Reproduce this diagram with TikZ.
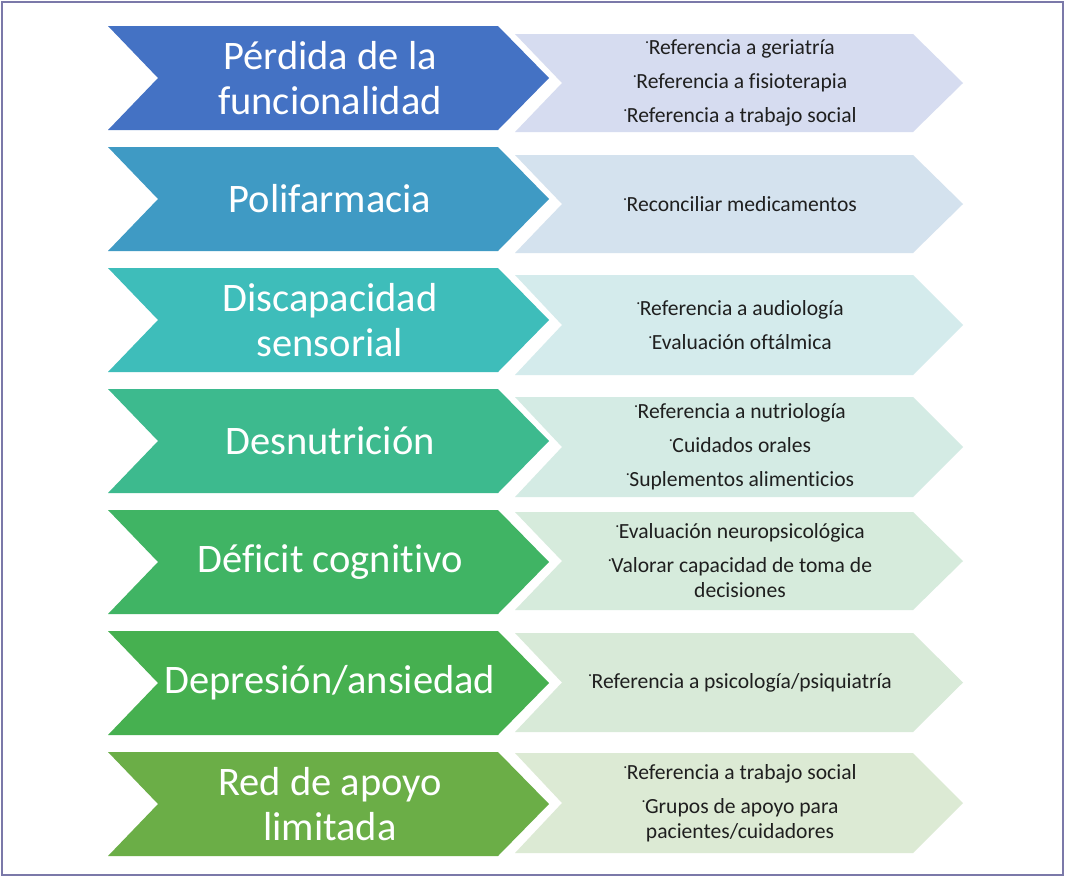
\documentclass[tikz,border=0pt]{standalone}
\usepackage{fontspec}
\setmainfont{Carlito}[Ligatures={NoCommon}]
\definecolor{framecol}{HTML}{7B79A9}
\definecolor{cLa}{HTML}{4472C4}
\definecolor{cLb}{HTML}{3F9AC4}
\definecolor{cLc}{HTML}{3EBDBA}
\definecolor{cLd}{HTML}{3DBA8E}
\definecolor{cLe}{HTML}{40B464}
\definecolor{cLf}{HTML}{46B050}
\definecolor{cLg}{HTML}{6BAE47}
\definecolor{cRa}{HTML}{D6DCF0}
\definecolor{cRb}{HTML}{D4E2EE}
\definecolor{cRc}{HTML}{D4EBEC}
\definecolor{cRd}{HTML}{D4EBE4}
\definecolor{cRe}{HTML}{D6EBDC}
\definecolor{cRf}{HTML}{D8EAD8}
\definecolor{cRg}{HTML}{DCEAD4}
\newcommand{\bul}{\raisebox{0.52em}{\fontsize{16}{16}\selectfont.}\kern-0.5pt}
\newcommand{\chrow}[9]{%
  \fill[#6] (108,#2) -- (498,#2) -- (549,{(#2+#3)/2}) -- (498,#3) -- (108,#3) -- (158,{(#2+#3)/2}) -- cycle;
  \node[lefttxt] (L#1) at (330,{(#2+#3)/2}) {#8};
  \fill[#7] (515,#4) -- (913,#4) -- (963,{(#4+#5)/2}) -- (913,#5) -- (515,#5) -- (562,{(#4+#5)/2}) -- cycle;
  \node[righttxt] (R#1) at (740,{(#4+#5)/2}) {#9};
}
\begin{document}
\begin{tikzpicture}[x=1pt,y=-1pt,
  lefttxt/.style={text=white, align=center, inner sep=0pt, font=\fontsize{40.5}{45}\selectfont},
  righttxt/.style={text=black!88, align=center, inner sep=0pt, font=\fontsize{21.6}{25}\selectfont}]
\useasboundingbox (0,0) rectangle (1065,876);
\fill[white] (0,0) rectangle (1065,876);
\draw[framecol, line width=2pt] (1.5,1.5) rectangle (1063,874.5);
\chrow{1}{26}{130}{34}{132}{cLa}{cRa}{Pérdida de la\\funcionalidad}{\bul Referencia a geriatría\\[9pt]\bul Referencia a fisioterapia\\[9pt]\bul Referencia a trabajo social}
\chrow{2}{147}{251}{155}{253}{cLb}{cRb}{Polifarmacia}{\bul Reconciliar medicamentos}
\chrow{3}{268}{372}{275}{375}{cLc}{cRc}{Discapacidad\\sensorial}{\bul Referencia a audiología\\[9pt]\bul Evaluación oftálmica}
\chrow{4}{389}{493}{397}{497}{cLd}{cRd}{Desnutrición}{\bul Referencia a nutriología\\[9pt]\bul Cuidados orales\\[9pt]\bul Suplementos alimenticios}
\chrow{5}{510}{614}{512}{610}{cLe}{cRe}{Déficit cognitivo}{\bul Evaluación neuropsicológica\\[9pt]\bul Valorar capacidad de toma de\\decisiones}
\chrow{6}{631}{735}{633}{732}{cLf}{cRf}{Depresión/ansiedad}{\bul Referencia a psicología/psiquiatría}
\chrow{7}{752}{856}{753}{853}{cLg}{cRg}{Red de apoyo\\limitada}{\bul Referencia a trabajo social\\[9pt]\bul Grupos de apoyo para\\pacientes/cuidadores}
\end{tikzpicture}
\end{document}
